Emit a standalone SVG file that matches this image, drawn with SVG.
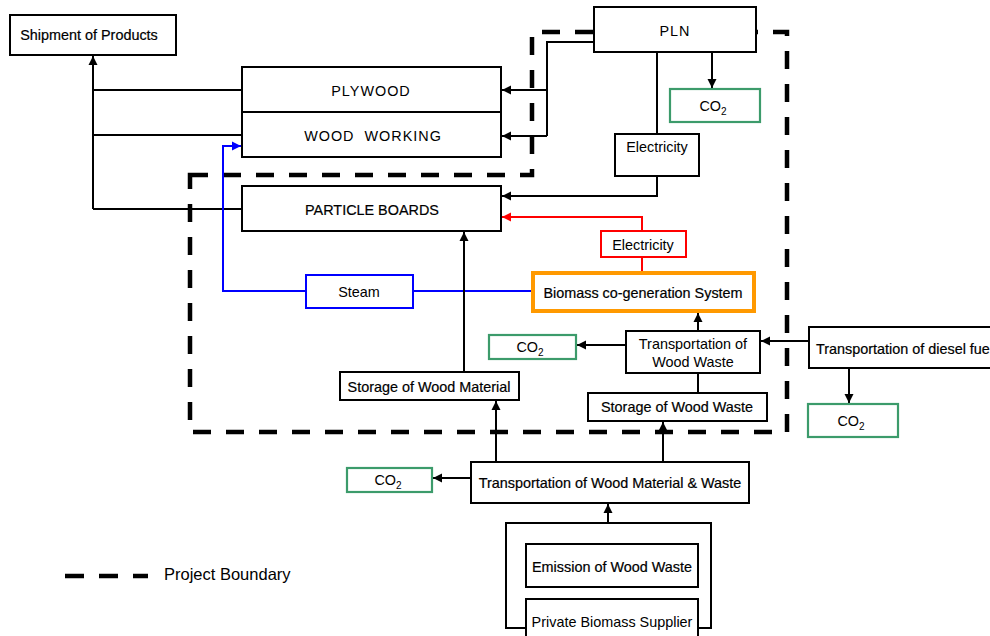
<svg xmlns="http://www.w3.org/2000/svg" width="990" height="636" viewBox="0 0 990 636">
<style>
text{font-family:"Liberation Sans",Arial,sans-serif;font-size:14.4px;fill:#000;text-anchor:middle}
.hv{stroke:#000;stroke-width:0.2}
.box{fill:#fff;stroke:#000;stroke-width:2}
.co2{fill:#fff;stroke:#3c9b6b;stroke-width:2.2}
.c{fill:none;stroke:#000;stroke-width:2}
.bl{fill:none;stroke:#0000ff;stroke-width:2}
.rd{fill:none;stroke:#ff0000;stroke-width:2}
.bound{fill:none;stroke:#000;stroke-width:4.5;stroke-dasharray:18 15}
.sp{letter-spacing:1px}
</style>
<defs>
<marker id="ak" markerUnits="userSpaceOnUse" markerWidth="11" markerHeight="11" refX="9" refY="5" orient="auto"><path d="M0,0.5 L9,5 L0,9.5 z" fill="#000"/></marker>
<marker id="ab" markerUnits="userSpaceOnUse" markerWidth="11" markerHeight="11" refX="9" refY="5" orient="auto"><path d="M0,0.5 L9,5 L0,9.5 z" fill="#0000ff"/></marker>
<marker id="ar" markerUnits="userSpaceOnUse" markerWidth="11" markerHeight="11" refX="9" refY="5" orient="auto"><path d="M0,0.5 L9,5 L0,9.5 z" fill="#ff0000"/></marker>
</defs>
<rect width="990" height="636" fill="#fff"/>
<g id="boundary">
<path class="bound" d="M190,175 H532 V32 H787 V432 H190 Z"/>
</g>
<g id="connectors">
<path class="c" d="M93,209 V56" marker-end="url(#ak)"/>
<path class="c" d="M93,90 H242 M93,135 H242 M93,209 H242"/>
<path class="c" d="M594,42 H547 V136"/>
<path class="c" d="M547,90 H502" marker-end="url(#ak)"/>
<path class="c" d="M547,136 H502" marker-end="url(#ak)"/>
<path class="c" d="M657,52 V134"/>
<path class="c" d="M712,52 V88" marker-end="url(#ak)"/>
<path class="c" d="M657,176 V196 H502" marker-end="url(#ak)"/>
<path class="rd" d="M642,230 V217 H502" marker-end="url(#ar)"/>
<path class="rd" d="M642,257 V272"/>
<path class="bl" d="M532,291 H223 V146 H241" marker-end="url(#ab)"/>
<path class="c" d="M464,372 V232" marker-end="url(#ak)"/>
<path class="c" d="M698,331 V313" marker-end="url(#ak)"/>
<path class="c" d="M626,345 H577" marker-end="url(#ak)"/>
<path class="c" d="M698,373 V393"/>
<path class="c" d="M809,341 H761" marker-end="url(#ak)"/>
<path class="c" d="M849,368 V403" marker-end="url(#ak)"/>
<path class="c" d="M496,462 V401" marker-end="url(#ak)"/>
<path class="c" d="M663,462 V422" marker-end="url(#ak)"/>
<path class="c" d="M471,478 H433" marker-end="url(#ak)"/>
<path class="c" d="M608,546 V504" marker-end="url(#ak)"/>
</g>
<g id="shipment"><rect class="box" x="10" y="15" width="166" height="40"/><text x="89" y="40" class="hv">Shipment of Products</text></g>
<g id="pln"><rect class="box" x="594" y="7" width="162" height="45"/><text x="675" y="36" class="sp">PLN</text></g>
<g id="co2-pln"><rect class="co2" x="670" y="89" width="90" height="33"/><text x="713" y="111">CO<tspan font-size="10" dy="4">2</tspan></text></g>
<g id="plywood"><rect class="box" x="242" y="67" width="259" height="45"/><text x="371" y="96" class="sp">PLYWOOD</text></g>
<g id="woodworking"><rect class="box" x="242" y="112" width="259" height="45"/><text x="373" y="141" class="sp" xml:space="preserve">WOOD  WORKING</text></g>
<g id="electricity-pln"><rect class="box" x="615" y="134" width="84" height="42"/><text x="657" y="152">Electricity</text></g>
<g id="particleboards"><rect class="box" x="242" y="186" width="259" height="45"/><text x="372" y="215" class="hv">PARTICLE BOARDS</text></g>
<g id="electricity-cogen"><rect x="601" y="231" width="85" height="26" fill="#fff" stroke="#ff0000" stroke-width="2"/><text x="643" y="250">Electricity</text></g>
<g id="steam"><rect x="306" y="275" width="107" height="33" fill="#fff" stroke="#0000ff" stroke-width="2"/><text x="359" y="297">Steam</text></g>
<g id="biomass"><rect x="533" y="273" width="221" height="38" fill="#fff" stroke="#ff9900" stroke-width="4"/><text x="643" y="298" class="hv">Biomass co-generation System</text></g>
<g id="co2-mid"><rect class="co2" x="489" y="335" width="87" height="24"/><text x="530" y="352">CO<tspan font-size="10" dy="4">2</tspan></text></g>
<g id="transport-waste"><rect class="box" x="626" y="331" width="134" height="42"/><text x="693" y="349">Transportation of</text><text x="693" y="367">Wood Waste</text></g>
<g id="transport-diesel"><path d="M990,327 H809 V368 H990" fill="#fff" stroke="#000" stroke-width="2"/><text x="816" y="354" class="hv" style="text-anchor:start">Transportation of diesel fue</text></g>
<g id="co2-diesel"><rect class="co2" x="808" y="404" width="90" height="33"/><text x="851" y="426">CO<tspan font-size="10" dy="4">2</tspan></text></g>
<g id="storage-material"><rect class="box" x="340" y="372" width="179" height="28"/><text x="429" y="392" class="hv">Storage of Wood Material</text></g>
<g id="storage-waste"><rect class="box" x="588" y="393" width="179" height="28"/><text x="677" y="412" class="hv">Storage of Wood Waste</text></g>
<g id="transport-material"><rect class="box" x="471" y="462" width="278" height="41"/><text x="610" y="488" class="hv">Transportation of Wood Material &amp; Waste</text></g>
<g id="co2-transport"><rect class="co2" x="347" y="468" width="85" height="24"/><text x="388" y="485">CO<tspan font-size="10" dy="4">2</tspan></text></g>
<g id="supplier-group"><rect x="506" y="523" width="205" height="105" fill="#fff" stroke="#000" stroke-width="2"/></g>
<g id="emission"><rect class="box" x="526" y="544" width="172" height="43"/><text x="612" y="572" class="hv">Emission of Wood Waste</text></g>
<g id="private-supplier"><path d="M526,640 V599 H698 V640" fill="#fff" stroke="#000" stroke-width="2"/><text x="612" y="627">Private Biomass Supplier</text></g>
<g id="legend"><path class="bound" d="M65,576 H148" style="stroke-dasharray:19 15"/><text x="164" y="580" style="text-anchor:start;font-size:16.5px">Project Boundary</text></g>
</svg>
